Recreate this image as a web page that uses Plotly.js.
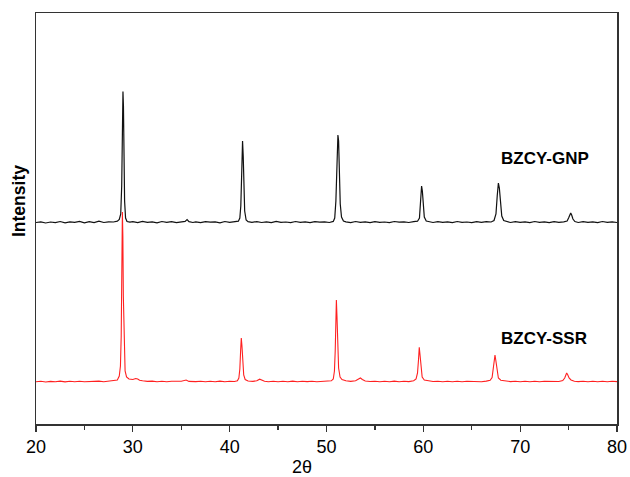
<!DOCTYPE html>
<html>
<head>
<meta charset="utf-8">
<script src="https://cdn.plot.ly/plotly-3.0.1.min.js"></script>
<style>html,body{margin:0;padding:0;background:#fff;}#chart{width:630px;height:477px;}</style>
</head>
<body>
<div id="chart"></div>
<script>
// BZCY-GNP pattern (offset upward)
const gnpX = [20.0,20.5,21.0,21.5,22.0,22.5,23.0,23.5,24.0,24.5,25.0,25.5,26.0,26.5,27.0,27.5,28.0,28.4,28.6,28.75,28.85,28.92,28.98,29.03,29.08,29.15,29.25,29.4,29.7,30.0,30.5,31.0,31.5,32.0,32.5,33.0,33.5,34.0,34.5,35.0,35.4,35.6,35.8,36.2,36.5,37.0,37.5,38.0,38.5,39.0,39.5,40.0,40.5,40.9,41.05,41.15,41.25,41.33,41.40,41.47,41.55,41.7,41.9,42.3,42.8,43.3,43.8,44.3,44.8,45.3,45.8,46.3,46.8,47.3,47.8,48.3,48.8,49.3,49.8,50.3,50.7,50.85,50.97,51.08,51.18,51.25,51.32,51.42,51.55,51.75,52.0,52.5,53.0,53.5,54.0,54.5,55.0,55.5,56.0,56.5,57.0,57.5,58.0,58.5,59.0,59.4,59.6,59.72,59.82,59.9,59.98,60.1,60.3,60.6,61.0,61.5,62.0,62.5,63.0,63.5,64.0,64.5,65.0,65.5,66.0,66.5,67.0,67.3,67.5,67.63,67.75,67.85,67.97,68.1,68.3,68.6,69.0,69.5,70.0,70.5,71.0,71.5,72.0,72.5,73.0,73.5,74.0,74.5,74.85,75.0,75.12,75.22,75.32,75.45,75.65,76.0,76.5,77.0,77.5,78.0,78.5,79.0,79.5,80.0];
const gnpY = [203.5,204.2,203.0,204.0,203.3,204.5,203.2,204.1,203.6,204.6,203.1,204.3,203.4,204.8,203.5,204.2,204.0,204.8,206.5,212,240,300,334.5,320,270,225,208,204.5,203.8,204.4,203.4,204.6,203.6,204.2,203.2,204.5,203.7,204.3,203.4,204.0,204.6,206.5,204.3,203.5,204.2,203.3,204.4,203.8,204.1,203.2,204.5,203.6,204.2,204.8,208,220,255,285,270,240,215,206,204.3,203.6,204.4,203.5,204.2,203.3,204.6,203.7,204.0,203.4,204.5,203.6,204.1,203.3,204.4,203.8,204.2,203.5,204.6,208,225,260,291,285,255,222,209,205,204.1,203.4,204.5,203.7,204.2,203.3,204.4,203.6,204.0,203.4,204.5,203.8,204.1,203.5,204.3,204.8,208,222,240,235,220,209,205,204.2,203.5,204.4,203.6,204.2,203.3,204.5,203.7,204.0,203.4,204.3,203.6,204.4,204.0,205.5,212,230,243,238,222,210,205.5,204.3,203.5,204.4,203.6,204.2,203.3,204.5,203.7,204.1,203.4,204.3,203.6,204.2,205,208,212,213,211,207,204.5,203.5,204.3,203.6,204.2,203.4,204.5,203.7,204.1,203.5];

// BZCY-SSR pattern
const ssrX = [20.0,20.5,21,21.5,22,22.5,23,23.5,24,24.5,25,25.5,26,26.5,27,27.5,28.0,28.4,28.6,28.72,28.8,28.86,28.92,28.97,29.02,29.1,29.2,29.35,29.6,30.0,30.3,30.5,30.7,31.0,31.5,32,32.5,33,33.5,34,34.5,35.0,35.5,35.8,36.5,37,37.5,38,38.5,39,39.5,40,40.5,40.8,40.95,41.05,41.13,41.2,41.27,41.35,41.45,41.6,41.9,42.4,42.8,43.1,43.3,43.6,44.0,44.5,45,45.5,46,46.5,47,47.5,48,48.5,49,49.5,50,50.5,50.7,50.82,50.9,50.96,51.02,51.08,51.15,51.25,51.4,51.6,52.0,52.5,53.0,53.3,53.5,53.7,54.0,54.5,55,55.5,56,56.5,57,57.5,58,58.5,59.0,59.25,59.4,59.5,59.58,59.65,59.75,59.88,60.1,60.5,61,61.5,62,62.5,63,63.5,64,64.5,65,65.5,66,66.5,66.9,67.1,67.22,67.32,67.4,67.48,67.6,67.75,68.0,68.5,69,69.5,70,70.5,71,71.5,72,72.5,73,73.5,74,74.4,74.6,74.72,74.8,74.9,75.05,75.25,75.6,76,76.5,77,77.5,78,78.5,79,79.5,80];
const ssrY = [44.3,44.8,44.0,44.6,44.2,44.9,44.1,44.7,44.3,44.8,44.2,44.6,44.4,44.9,44.3,44.8,45.0,46,50,60,90,150,214,190,130,75,55,49,47,46.5,47.5,47,45.8,45.2,44.6,44.9,44.3,44.8,44.2,44.7,44.4,44.8,46,44.6,44.4,44.8,44.2,44.7,44.3,44.9,44.2,44.8,44.5,45.3,48,57,75,88,80,62,51,46.5,45,44.6,45.2,46.8,46,44.8,44.3,44.8,44.2,44.7,44.3,44.9,44.2,44.7,44.4,44.8,44.2,44.7,44.5,45.2,47,55,75,105,126,110,80,58,49,46.5,45.2,44.6,45.3,47,48,46.5,45,44.5,44.8,44.2,44.7,44.3,44.9,44.2,44.8,44.4,45.2,47,53,66,78.7,72,58,49,46,45,44.5,44.8,44.2,44.7,44.3,44.8,44.2,44.7,44.4,44.8,44.3,44.9,45.8,48.5,57,68,71,66,55,48,45.8,44.9,44.4,44.8,44.2,44.7,44.3,44.8,44.2,44.7,44.4,44.8,44.5,45.5,48,51,53,51.5,48,46,44.8,44.4,44.8,44.2,44.7,44.3,44.8,44.2,44.7,44.4];

const seriesNames = ['BZCY-GNP', 'BZCY-SSR'];
const xTickVals = [20, 30, 40, 50, 60, 70, 80];
const labelPos = [[67.85, 268], [67.85, 88]];
const xTitle = '2θ';
const yTitle = 'Intensity';

const traces = [
  {x: gnpX, y: gnpY, type: 'scatter', mode: 'lines', name: seriesNames[0],
   line: {color: '#111111', width: 1.2}},
  {x: ssrX, y: ssrY, type: 'scatter', mode: 'lines', name: seriesNames[1],
   line: {color: '#ff2020', width: 1.1}}
];

const font = 'Liberation Sans, Arial, sans-serif';
const annotations = seriesNames.map((n, i) => ({
  x: labelPos[i][0], y: labelPos[i][1], xref: 'x', yref: 'y',
  text: '<b>' + n + '</b>', showarrow: false, xanchor: 'left', yanchor: 'middle',
  font: {family: font, size: 17, color: '#000'}
}));
annotations.push({
  x: 302, y: 467, xref: 'paper', yref: 'paper', text: xTitle, showarrow: false,
  xanchor: 'center', yanchor: 'middle', borderpad: 0, font: {family: font, size: 18, color: '#000'}
});
annotations.push({
  x: 19, y: 201, xref: 'paper', yref: 'paper', text: '<b>' + yTitle + '</b>', showarrow: false,
  textangle: -90, xanchor: 'center', yanchor: 'middle', font: {family: font, size: 17.5, color: '#000'}
});

const L = 36, R = 12.5, T = 13, B = 53, W = 630, H = 477;
// convert pixel positions of title annotations to paper fractions
annotations.slice(-2).forEach(a => {
  a.x = (a.x - L) / (W - L - R);
  a.y = (H - B - a.y) / (H - T - B);
});

const layout = {
  width: W, height: H,
  margin: {l: L, r: R, t: T, b: B},
  paper_bgcolor: '#fff', plot_bgcolor: '#fff',
  showlegend: false,
  font: {family: font, color: '#000'},
  xaxis: {
    range: [20, 80], tickvals: xTickVals, ticks: 'outside', ticklen: 6, tickwidth: 1.2, tickcolor: '#333',
    minor: {dtick: 5, tick0: 20, ticks: 'outside', ticklen: 4, tickwidth: 1.2, tickcolor: '#333', showgrid: false},
    showline: true, mirror: true, linecolor: '#333', linewidth: 1.5,
    showgrid: false, zeroline: false,
    tickfont: {family: font, size: 18, color: '#000'}
  },
  yaxis: {
    range: [2, 413], showticklabels: false, ticks: '',
    showline: true, mirror: true, linecolor: '#333', linewidth: 1.5,
    showgrid: false, zeroline: false
  },
  annotations: annotations
};

Plotly.newPlot('chart', traces, layout, {staticPlot: true, displayModeBar: false});
</script>
</body>
</html>
